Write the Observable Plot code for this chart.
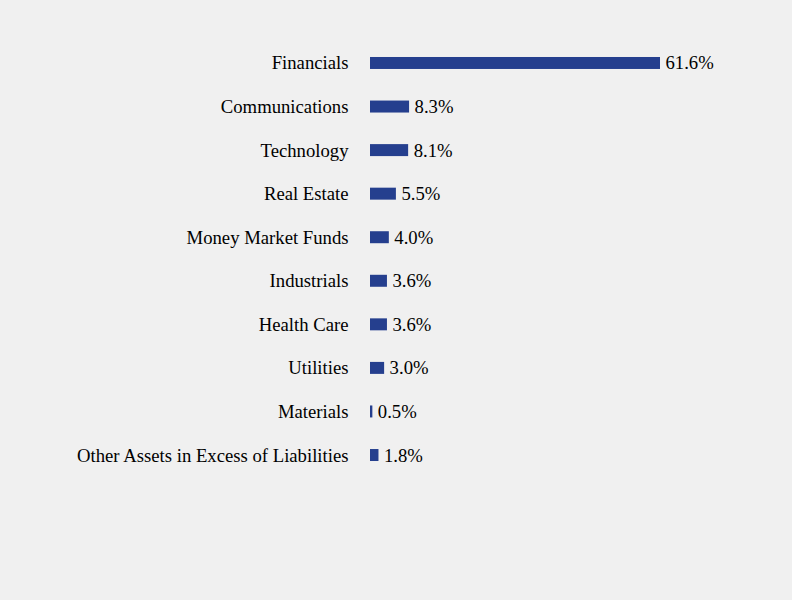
<!DOCTYPE html>
<html>
<head>
<meta charset="utf-8">
<script src="https://cdn.jsdelivr.net/npm/d3@7"></script>
<script src="https://cdn.jsdelivr.net/npm/@observablehq/plot@0.6"></script>
<style>
  html, body { margin: 0; padding: 0; background: #f0f0f0; }
  #chart svg { display: block; }
</style>
</head>
<body>
<div id="chart"></div>
<script>
const categories = ["Financials", "Communications", "Technology", "Real Estate", "Money Market Funds", "Industrials", "Health Care", "Utilities", "Materials", "Other Assets in Excess of Liabilities"];
const values = [61.6, 8.3, 8.1, 5.5, 4.0, 3.6, 3.6, 3.0, 0.5, 1.8];
const valueLabels = ["61.6%", "8.3%", "8.1%", "5.5%", "4.0%", "3.6%", "3.6%", "3.0%", "0.5%", "1.8%"];

const data = categories.map((c, i) => ({category: c, value: values[i], label: valueLabels[i]}));

const chart = Plot.plot({
  width: 792,
  height: 600,
  marginLeft: 370,
  marginRight: 132,
  marginTop: 41.2,
  marginBottom: 123.2,
  style: {background: "#f0f0f0", fontFamily: "'Liberation Serif', 'Times New Roman', serif", fontSize: "18.7px", color: "#000"},
  x: {domain: [0, 61.6], axis: null},
  y: {domain: categories, paddingInner: 0.725, paddingOuter: 0.3625, round: false, label: null},
  marks: [
    Plot.barX(data, {x: "value", y: "category", fill: "#253f8e"}),
    Plot.text(data, {x: "value", y: "category", text: "label", dx: 5, textAnchor: "start", fill: "#000", fontSize: 18.7, fontFamily: "Liberation Serif"}),
    Plot.axisY({tickSize: 0, tickPadding: 22, fontSize: 18.7, fontFamily: "Liberation Serif", label: null, fill: "#000"})
  ]
});
document.getElementById("chart").appendChild(chart);
</script>
</body>
</html>
